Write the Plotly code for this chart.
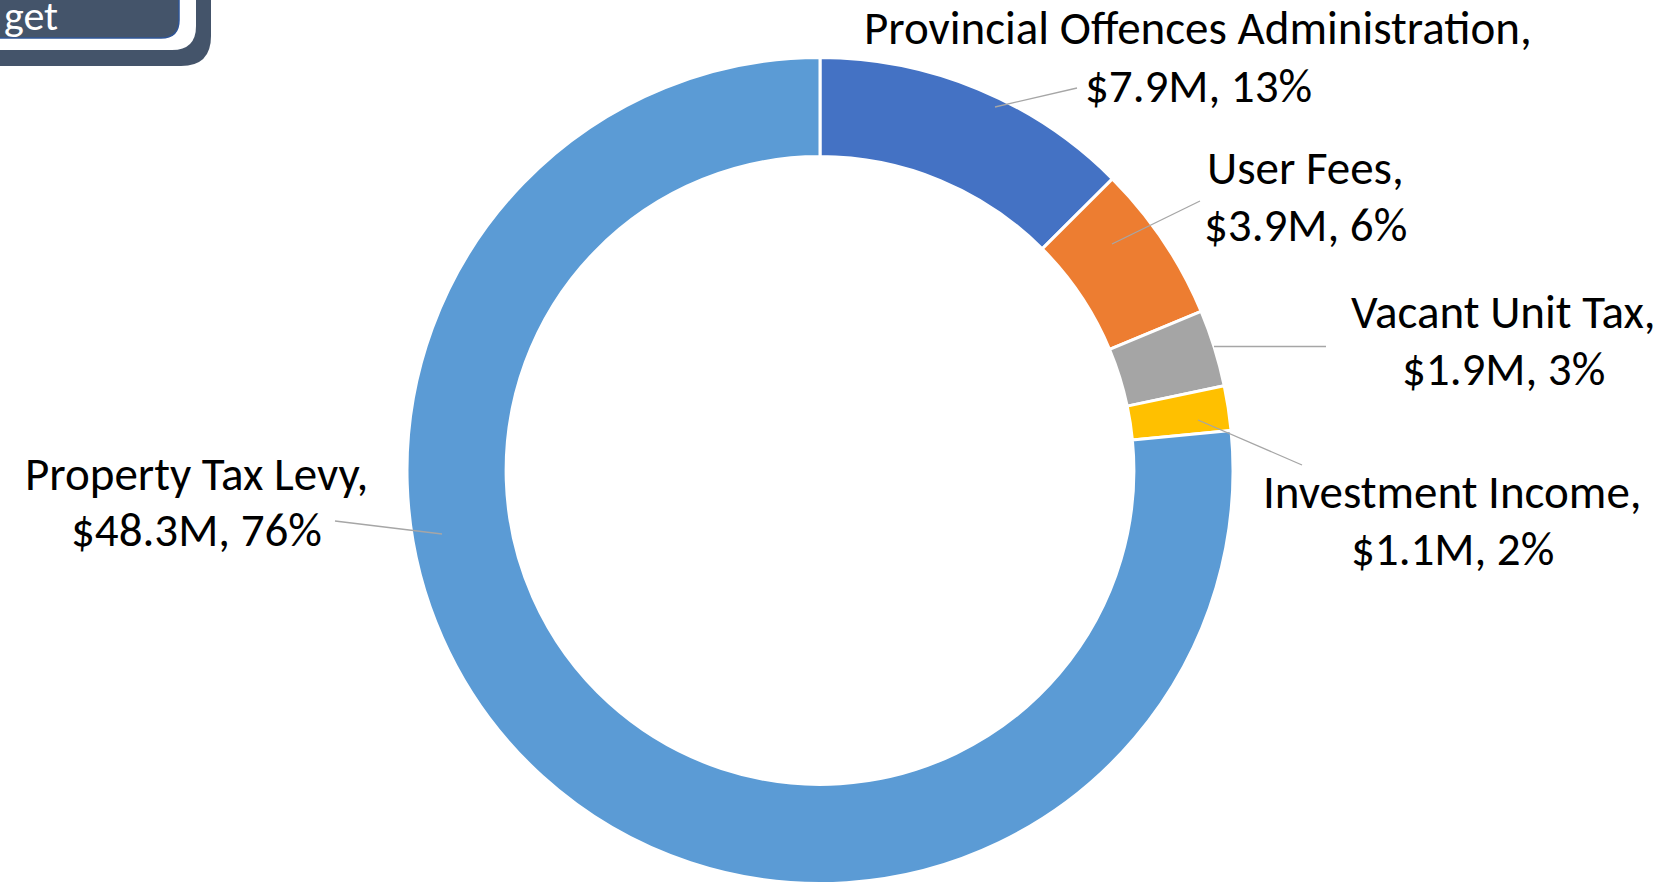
import plotly.graph_objects as go

W, H = 1677, 887

labels = ["Provincial Offences Administration", "User Fees", "Vacant Unit Tax",
          "Investment Income", "Property Tax Levy"]
values = [7.9, 3.9, 1.9, 1.1, 48.3]
pct_labels = ["13%", "6%", "3%", "2%", "76%"]
colors = ["#4472C4", "#ED7D31", "#A5A5A5", "#FFC000", "#5B9BD5"]

# layout (pixel positions)
cx, cy, R = 820, 470.5, 413
label_pos = [(1198, 28, 86), (1305, 168, 225), (1503, 312, 369), (1452, 492, 549), (196, 474, 530)]
leader = [((995, 107), (1077, 88)), ((1112, 244), (1200, 201)), ((1214, 346.5), (1326, 346.5)),
          ((1198, 420), (1302, 465)), ((442, 534), (335, 521))]

def px(x):
    return x / W

def py(y):
    return 1 - y / H

fig = go.Figure(go.Pie(
    labels=labels, values=values, hole=0.76, sort=False, direction="clockwise",
    rotation=0, marker=dict(colors=colors, line=dict(color="white", width=3)),
    textinfo="none", hoverinfo="label+value+percent", showlegend=False,
    domain=dict(x=[px(cx - R), px(cx + R)], y=[py(cy + R), py(cy - R)]),
))

font = dict(family="Calibri, Carlito, Lato, sans-serif", size=47, color="#000000")
annotations = []
shapes = []
for lab, v, p, (tx, y1, y2), (a, b) in zip(labels, values, pct_labels, label_pos, leader):
    annotations.append(dict(x=px(tx), y=py(y1), xref="paper", yref="paper", text=lab + ",",
                            showarrow=False, xanchor="center", yanchor="middle", font=font))
    annotations.append(dict(x=px(tx), y=py(y2), xref="paper", yref="paper", text=f"${v}M, {p}",
                            showarrow=False, xanchor="center", yanchor="middle", font=font))
    shapes.append(dict(type="line", xref="paper", yref="paper", x0=px(a[0]), y0=py(a[1]),
                       x1=px(b[0]), y1=py(b[1]), line=dict(color="#A6A6A6", width=1.3)))

def rrect(x1, y1, r):
    # rectangle from off-canvas top-left to (x1, y1) with rounded bottom-right corner
    x0, y0 = -20, -20
    pts = (f"M {px(x0)},{py(y0)} L {px(x1)},{py(y0)} L {px(x1)},{py(y1 - r)} "
           f"Q {px(x1)},{py(y1)} {px(x1 - r)},{py(y1)} L {px(x0)},{py(y1)} Z")
    return pts

shapes.insert(0, dict(type="path", xref="paper", yref="paper", path=rrect(211, 66, 30),
                      fillcolor="#44546A", line=dict(width=0), layer="above"))
shapes.insert(1, dict(type="path", xref="paper", yref="paper", path=rrect(196, 50, 24),
                      fillcolor="#FFFFFF", line=dict(width=0), layer="above"))
shapes.insert(2, dict(type="path", xref="paper", yref="paper", path=rrect(179, 38, 18),
                      fillcolor="#44546A", line=dict(color="#2F5597", width=1.5), layer="above"))
annotations.append(dict(x=px(2), y=py(16), xref="paper", yref="paper", text="get",
                        showarrow=False, xanchor="left", yanchor="middle",
                        font=dict(family="Calibri, Carlito, Lato, sans-serif", size=42, color="white")))

fig.update_layout(width=W, height=H, margin=dict(l=0, r=0, t=0, b=0),
                  paper_bgcolor="white", plot_bgcolor="white",
                  annotations=annotations, shapes=shapes)
fig.write_html("out.html")
